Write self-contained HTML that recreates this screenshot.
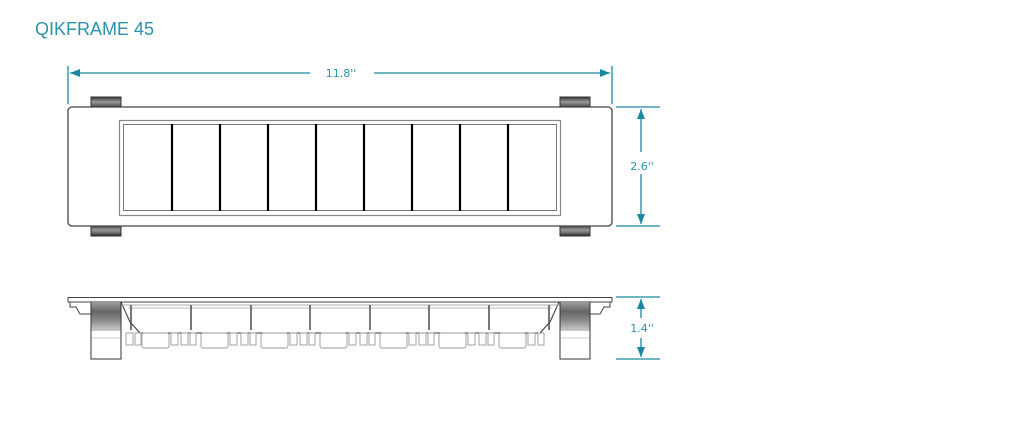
<!DOCTYPE html>
<html><head><meta charset="utf-8"><style>
html,body{margin:0;padding:0;background:#fff;width:1024px;height:426px;overflow:hidden}
svg{display:block}
text{font-family:"DejaVu Sans","Liberation Sans",sans-serif;fill:#2a93ad}
</style></head><body>
<svg width="1024" height="426" viewBox="0 0 1024 426" xmlns="http://www.w3.org/2000/svg">
<defs>
<linearGradient id="g" x1="0" y1="0" x2="0" y2="1">
<stop offset="0" stop-color="#333"/><stop offset="0.45" stop-color="#999"/><stop offset="0.75" stop-color="#666"/><stop offset="1" stop-color="#222"/></linearGradient>
<linearGradient id="g2" x1="0" y1="0" x2="0" y2="1">
<stop offset="0" stop-color="#999"/><stop offset="0.3" stop-color="#666"/><stop offset="0.6" stop-color="#888"/><stop offset="1" stop-color="#ccc"/></linearGradient>
<marker id="a" viewBox="0 0 10 10" refX="10" refY="5" markerWidth="10" markerHeight="10" markerUnits="userSpaceOnUse" orient="auto"><path d="M0,1 L10,5 L0,9z" fill="#1a87a3"/></marker>
</defs>
<text x="35" y="35" font-size="18" style="font-family:'Liberation Sans',sans-serif" fill="#2a93ad">QIKFRAME 45</text>

<rect x="91" y="97" width="30" height="11" fill="url(#g)" stroke="#333" stroke-width="1"/>
<rect x="560" y="97" width="30" height="11" fill="url(#g)" stroke="#333" stroke-width="1"/>
<rect x="91" y="225" width="30" height="11" fill="url(#g)" stroke="#333" stroke-width="1"/>
<rect x="560" y="225" width="30" height="11" fill="url(#g)" stroke="#333" stroke-width="1"/>
<rect x="68" y="107" width="544" height="119" rx="4" fill="#fff" stroke="#444" stroke-width="1.3"/>
<rect x="119.5" y="120.5" width="441" height="95" fill="none" stroke="#888" stroke-width="1.2"/>
<rect x="123.5" y="124.5" width="433" height="86" fill="none" stroke="#777" stroke-width="1"/>
<g stroke="#000" stroke-width="2.2">
<line x1="172" y1="124" x2="172" y2="211"/><line x1="220" y1="124" x2="220" y2="211"/><line x1="268" y1="124" x2="268" y2="211"/><line x1="316" y1="124" x2="316" y2="211"/><line x1="364" y1="124" x2="364" y2="211"/><line x1="412" y1="124" x2="412" y2="211"/><line x1="460" y1="124" x2="460" y2="211"/><line x1="508" y1="124" x2="508" y2="211"/>
</g>

<g stroke="#1a87a3" stroke-width="1.3" fill="none">
<line x1="68" y1="66" x2="68" y2="104"/><line x1="612" y1="66" x2="612" y2="104"/>
<line x1="310" y1="73" x2="70" y2="73" marker-end="url(#a)"/>
<line x1="374" y1="73" x2="610" y2="73" marker-end="url(#a)"/>
<line x1="616" y1="107" x2="660" y2="107"/><line x1="616" y1="226" x2="660" y2="226"/>
<line x1="641" y1="152" x2="641" y2="109" marker-end="url(#a)"/>
<line x1="641" y1="174" x2="641" y2="224" marker-end="url(#a)"/>
<line x1="616" y1="297" x2="660" y2="297"/><line x1="616" y1="359" x2="660" y2="359"/>
<line x1="641" y1="318" x2="641" y2="299" marker-end="url(#a)"/>
<line x1="641" y1="338" x2="641" y2="357" marker-end="url(#a)"/>
</g>
<text x="341" y="77" font-size="11" text-anchor="middle">11.8''</text>
<text x="642" y="170" font-size="11" text-anchor="middle">2.6''</text>
<text x="642" y="332" font-size="11" text-anchor="middle">1.4''</text>

<g stroke="#444" stroke-width="1" fill="none">
<rect x="68" y="297.5" width="544" height="4.5" fill="#fff"/>
<path d="M70,302 v5 h6 l4,7 h11"/>
<path d="M610,302 v5 h-6 l-4,7 h-10"/>
<path d="M121,302 l9,20 l10,11 h400 l10,-11 l9,-20" stroke="#333"/>
<line x1="121" y1="305" x2="560" y2="305" stroke="#aaa"/>
<line x1="128" y1="308" x2="552" y2="308" stroke="#bbb"/>
</g>
<g stroke="#555" stroke-width="1.6">
<line x1="131" y1="305" x2="131" y2="330"/><line x1="191" y1="305" x2="191" y2="330"/><line x1="251" y1="305" x2="251" y2="330"/><line x1="310" y1="305" x2="310" y2="330"/><line x1="370" y1="305" x2="370" y2="330"/><line x1="429" y1="305" x2="429" y2="330"/><line x1="489" y1="305" x2="489" y2="330"/><line x1="549" y1="305" x2="549" y2="330"/>
</g>
<g stroke="#999" stroke-width="0.9" fill="#fff">
<rect x="126" y="333" width="7" height="12"/><rect x="135" y="333" width="6" height="12"/><rect x="142" y="333" width="27" height="15" rx="2"/><rect x="171" y="333" width="7" height="12"/>
<rect x="181" y="333" width="7" height="12"/><rect x="190" y="333" width="6" height="12"/><rect x="201" y="333" width="27" height="15" rx="2"/><rect x="230" y="333" width="7" height="12"/>
<rect x="241" y="333" width="7" height="12"/><rect x="250" y="333" width="6" height="12"/><rect x="261" y="333" width="27" height="15" rx="2"/><rect x="290" y="333" width="7" height="12"/>
<rect x="300" y="333" width="7" height="12"/><rect x="309" y="333" width="6" height="12"/><rect x="320" y="333" width="27" height="15" rx="2"/><rect x="349" y="333" width="7" height="12"/>
<rect x="360" y="333" width="7" height="12"/><rect x="369" y="333" width="6" height="12"/><rect x="380" y="333" width="27" height="15" rx="2"/><rect x="409" y="333" width="7" height="12"/>
<rect x="419" y="333" width="7" height="12"/><rect x="428" y="333" width="6" height="12"/><rect x="439" y="333" width="27" height="15" rx="2"/><rect x="468" y="333" width="7" height="12"/>
<rect x="479" y="333" width="7" height="12"/><rect x="488" y="333" width="6" height="12"/><rect x="499" y="333" width="27" height="15" rx="2"/><rect x="528" y="333" width="7" height="12"/>
<rect x="538" y="333" width="6" height="12"/>
</g>
<rect x="91" y="302" width="30" height="57" fill="#fff" stroke="#333" stroke-width="1"/>
<rect x="91.5" y="303" width="29" height="28" fill="url(#g2)"/>
<rect x="560" y="302" width="30" height="57" fill="#fff" stroke="#333" stroke-width="1"/>
<rect x="560.5" y="303" width="29" height="28" fill="url(#g2)"/>
<g stroke="#bbb" stroke-width="0.7"><line x1="92" y1="338" x2="120" y2="338"/><line x1="561" y1="338" x2="589" y2="338"/></g>
</svg>
</body></html>
